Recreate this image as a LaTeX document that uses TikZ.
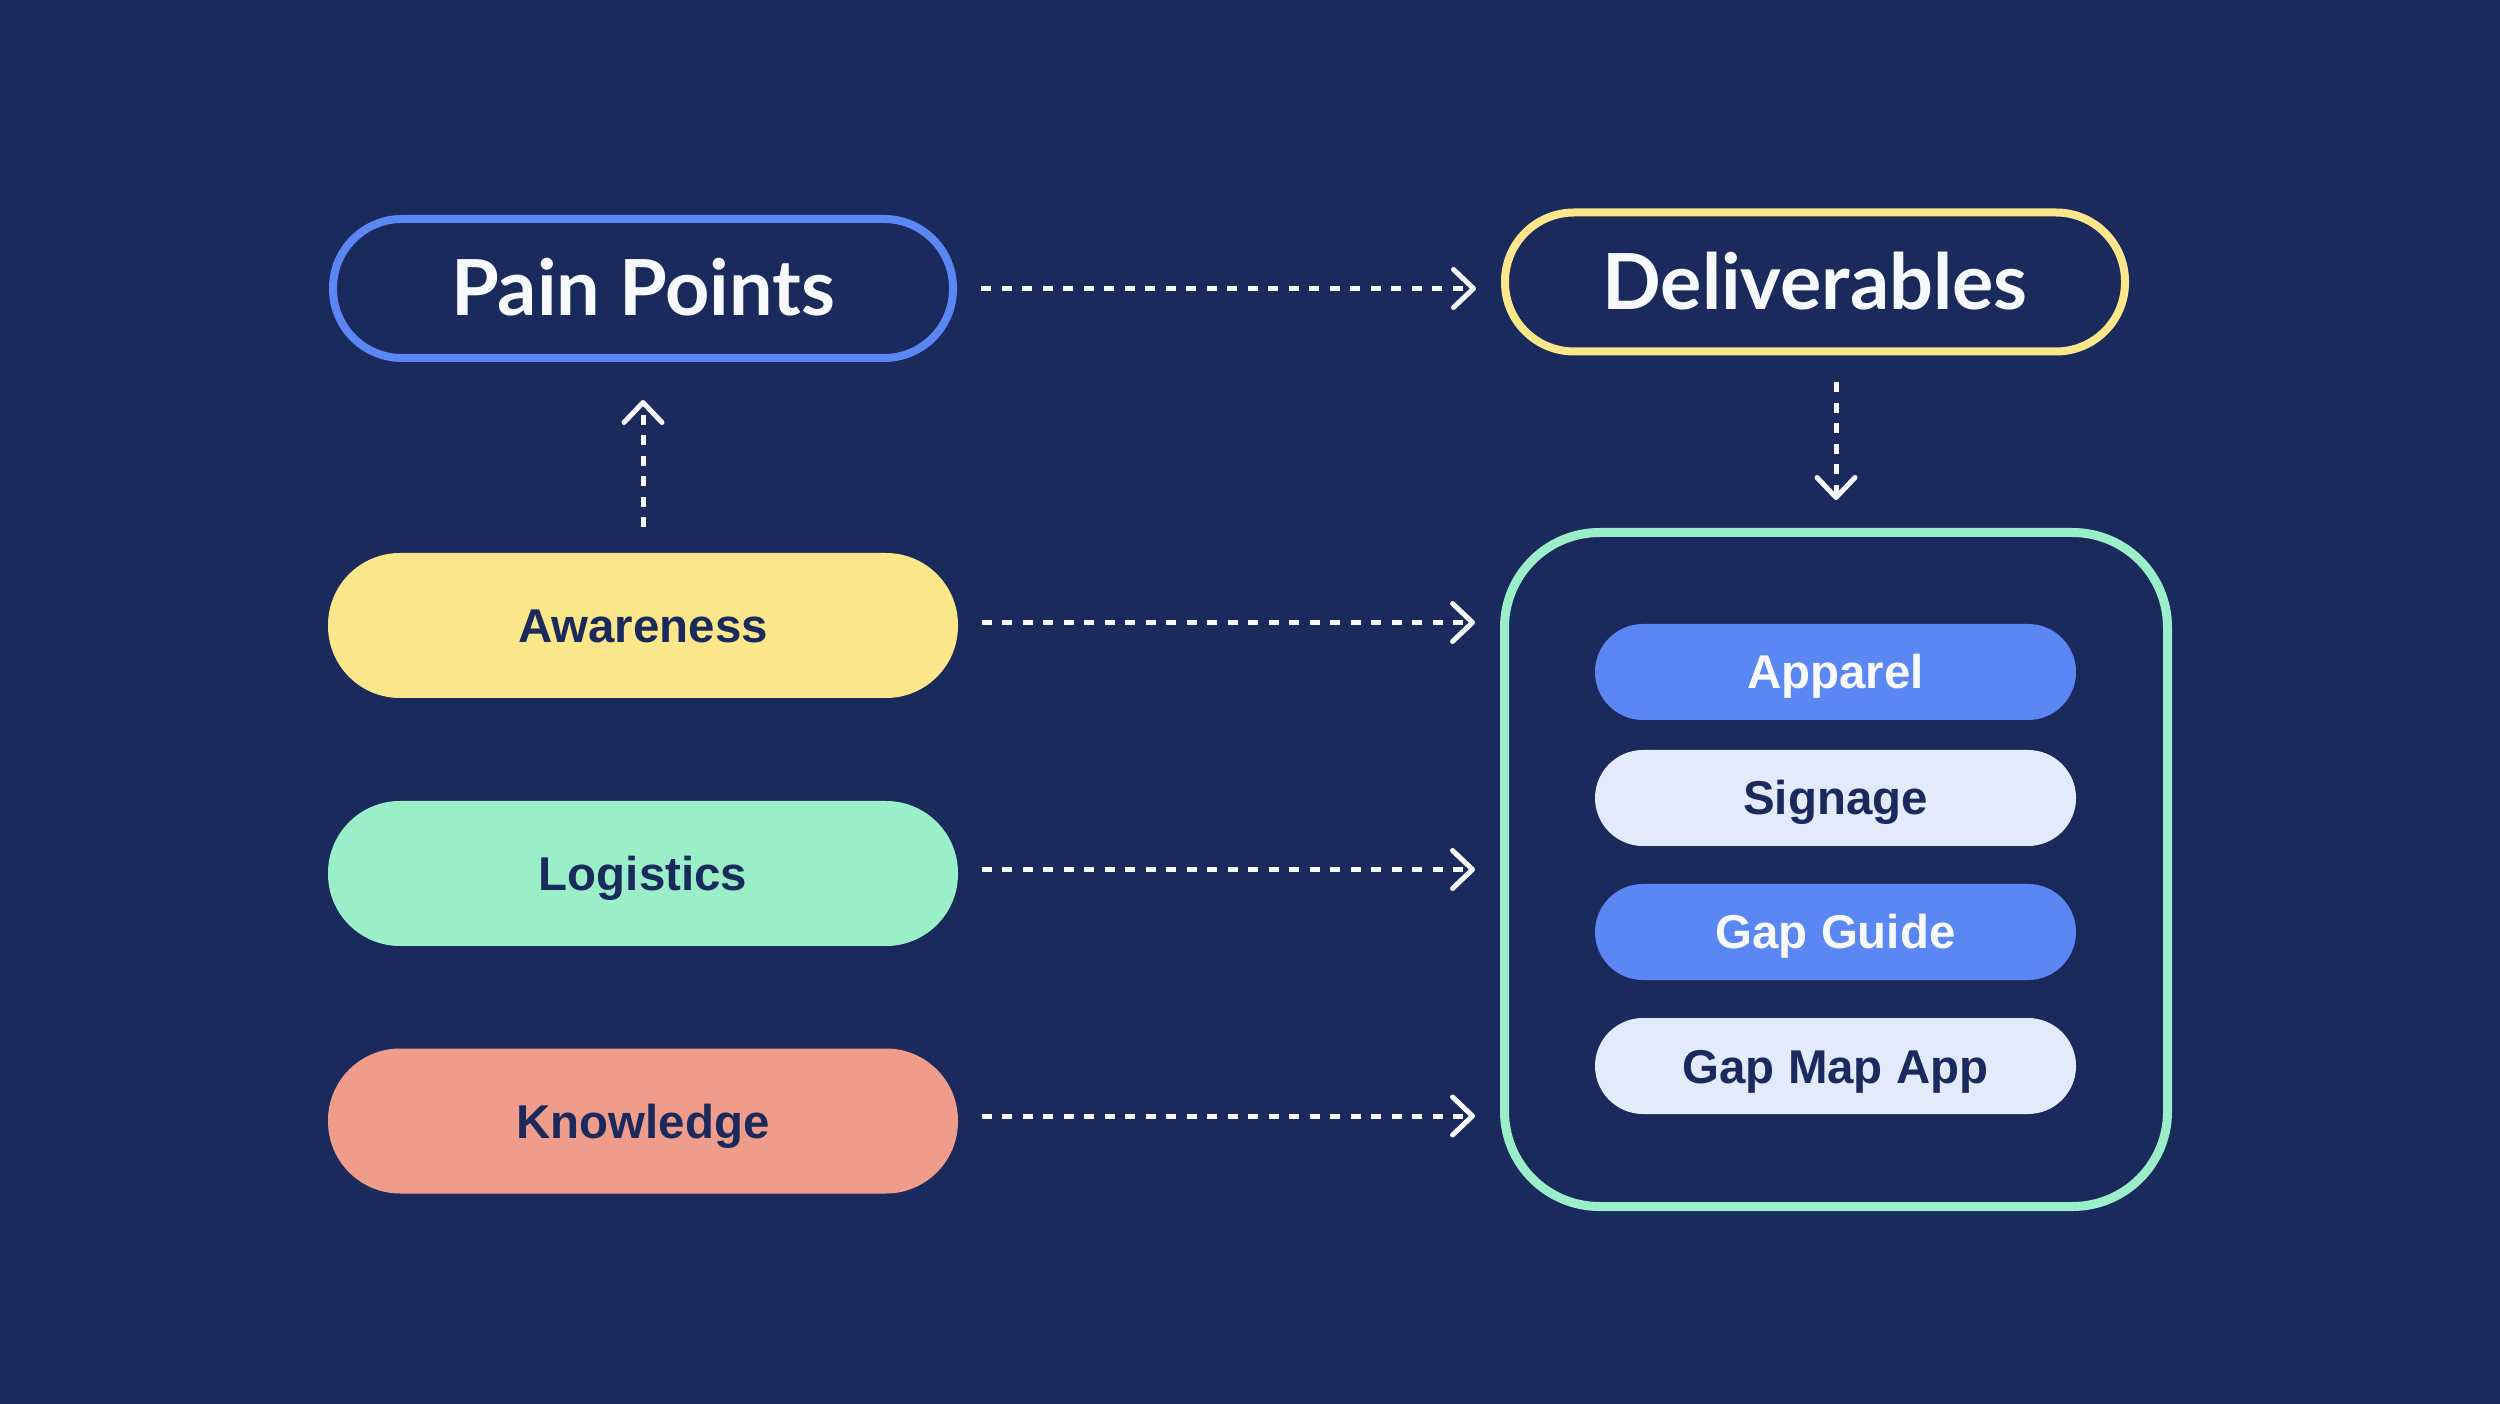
\documentclass[tikz,border=0pt]{standalone}
\usepackage{fontspec}
\setmainfont{Liberation Sans}
\newfontfamily\titlefont{Lato}
\usetikzlibrary{arrows.meta}
\definecolor{bg}{HTML}{1B2A5C}
\definecolor{cblue}{HTML}{5B87F4}
\definecolor{cyellow}{HTML}{FBE68A}
\definecolor{cmint}{HTML}{9BEFC8}
\definecolor{csalmon}{HTML}{F09C8B}
\definecolor{clight}{HTML}{E2EAFB}
\definecolor{cwhite}{HTML}{F8F9FC}
\begin{document}
\begin{tikzpicture}[x=1cm,y=1cm,
  titlebox/.style={rectangle, rounded corners=0.69cm, line width=0.08cm, fill=bg,
    minimum width=6.20cm, minimum height=1.39cm, inner sep=0pt, text=cwhite,
    font=\titlefont\bfseries\fontsize{22}{24}\selectfont, text height=0.55cm, text depth=0pt},
  leftpill/.style={rectangle, rounded corners=0.72cm, draw=none,
    minimum width=6.30cm, minimum height=1.45cm, inner sep=0pt, text=bg,
    font=\bfseries\fontsize{13.5}{16}\selectfont, text height=0.34cm, text depth=0pt},
  innerpill/.style={rectangle, rounded corners=0.48cm, draw=none,
    minimum width=4.81cm, minimum height=0.96cm, inner sep=0pt,
    font=\bfseries\fontsize{13.5}{16}\selectfont, text height=0.34cm, text depth=0pt},
  conn/.style={draw=cwhite, line width=0.05cm, dash pattern=on 0.10cm off 0.105cm,
    -{Straight Barb[length=0.2cm, width=0.38cm, line cap=round, line join=round]}},
]
\fill[bg] (0,0) rectangle (25,-14.04);
\useasboundingbox (0,0) rectangle (25,-14.04);

% titles
\node[titlebox, draw=cblue] (pp) at (6.43,-2.885) {Pain Points};
\node[titlebox, draw=cyellow] (dl) at (18.15,-2.82) {Deliverables};

% left pills
\node[leftpill, fill=cyellow] (aw) at (6.43,-6.255) {Awareness};
\node[leftpill, fill=cmint] (lg) at (6.43,-8.735) {Logistics};
\node[leftpill, fill=csalmon] (kn) at (6.43,-11.21) {Knowledge};

% container
\node[rectangle, rounded corners=0.95cm, draw=cmint, line width=0.09cm, fill=bg,
  minimum width=6.63cm, minimum height=6.74cm, inner sep=0pt] (box) at (18.36,-8.695) {};

% inner pills
\node[innerpill, fill=cblue, text=cwhite] (ap) at (18.355,-6.72) {Apparel};
\node[innerpill, fill=clight, text=bg] (sg) at (18.355,-7.98) {Signage};
\node[innerpill, fill=cblue, text=cwhite] (gg) at (18.355,-9.32) {Gap Guide};
\node[innerpill, fill=clight, text=bg] (gm) at (18.355,-10.66) {Gap Map App};

% connectors
\draw[conn, shorten <=0.24cm, shorten >=0.25cm] (pp.east) -- (pp.east -| dl.west);
\draw[conn, shorten <=0.25cm, shorten >=0.38cm] (aw.north) -- (pp.south);
\draw[conn, shorten <=0.27cm, shorten >=0.28cm] (dl.south -| box.north) -- (box.north);
\draw[conn, shorten <=0.23cm, shorten >=0.25cm] ([yshift=0.03cm]aw.east) -- ([yshift=0.03cm]aw.east -| box.west);
\draw[conn, shorten <=0.23cm, shorten >=0.25cm] ([yshift=0.04cm]lg.east) -- ([yshift=0.04cm]lg.east -| box.west);
\draw[conn, shorten <=0.23cm, shorten >=0.25cm] ([yshift=0.05cm]kn.east) -- ([yshift=0.05cm]kn.east -| box.west);
\end{tikzpicture}
\end{document}
